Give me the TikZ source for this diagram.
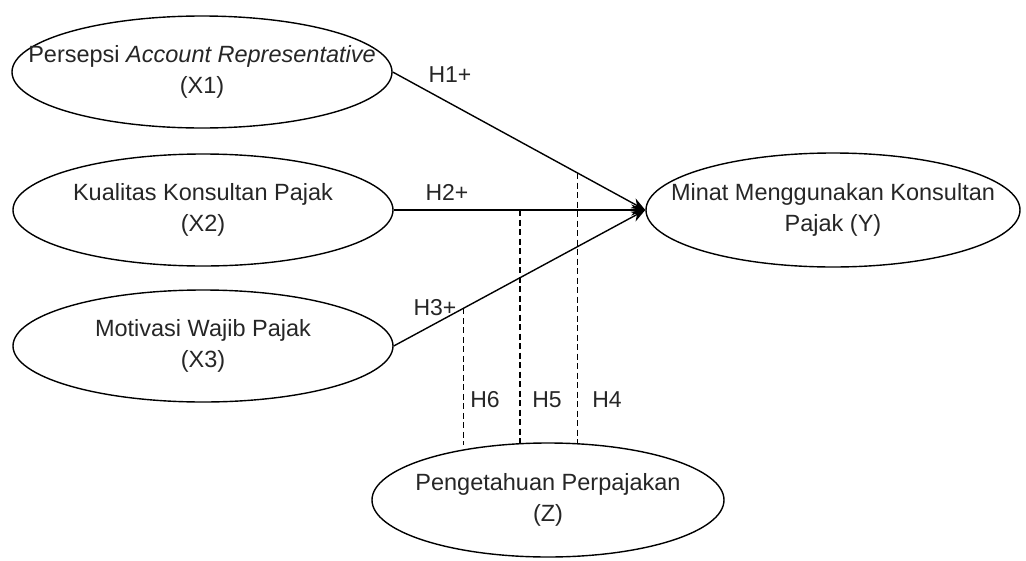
\documentclass[tikz,border=0pt]{standalone}
\usepackage{fontspec}
\setmainfont{Liberation Sans}
\usetikzlibrary{arrows.meta,shapes.geometric}
\begin{document}
\begin{tikzpicture}[x=1pt,y=-1pt,
  ell/.style={draw=black, line width=1.4pt, ellipse, inner sep=0pt, minimum width=380pt, minimum height=112pt},
  lbl/.style={align=center, font=\fontsize{23.5}{31}\selectfont, text=black!85, inner sep=0pt},
  hlab/.style={font=\fontsize{23}{28}\selectfont, text=black!85, inner sep=0pt},
  arr/.style={draw=black, line width=1.4pt, -{Stealth[length=14pt,width=11pt]}},
  dsh/.style={draw=black, line width=1.4pt, dash pattern=on 6pt off 3.5pt}
]
\useasboundingbox (0,0) rectangle (1026,560);
\node[ell, label={[lbl]center:{Persepsi \textit{Account Representative}\\(X1)}}] (X1) at (202,72) {};
\node[ell, label={[lbl]center:{Kualitas Konsultan Pajak\\(X2)}}] (X2) at (203,210) {};
\node[ell, label={[lbl]center:{Motivasi Wajib Pajak\\(X3)}}] (X3) at (203,346) {};
\node[ell, minimum width=374pt, minimum height=114pt, label={[lbl]center:{Minat Menggunakan Konsultan\\Pajak (Y)}}] (Y) at (833,210) {};
\node[ell, minimum width=352pt, minimum height=114pt, label={[lbl]center:{Pengetahuan Perpajakan\\(Z)}}] (Z) at (548,500) {};

\draw[arr] (X1.east) -- coordinate[pos=0.732] (d4) (Y.west);
\draw[arr] (X2.east) -- coordinate[pos=0.502] (d5) (Y.west);
\draw[arr] (X3.east) -- coordinate[pos=0.277] (d6) (Y.west);

\draw[dsh] (d4) -- ([yshift=-2pt]d4 |- Z.north);
\draw[dsh] (d5) -- ([yshift=-2pt]d5 |- Z.north);
\draw[dsh] (d6) -- ([yshift=-3pt]d6 |- Z.north);

\node[hlab] (h1) at (450,75) {H1+};
\node[hlab] (h2) at (447,192) {H2+};
\node[hlab] (h3) at (435,308) {H3+};
\node[hlab] (h6) at (485,400) {H6};
\node[hlab] (h5) at (547,400) {H5};
\node[hlab] (h4) at (607,400) {H4};
\end{tikzpicture}
\end{document}
